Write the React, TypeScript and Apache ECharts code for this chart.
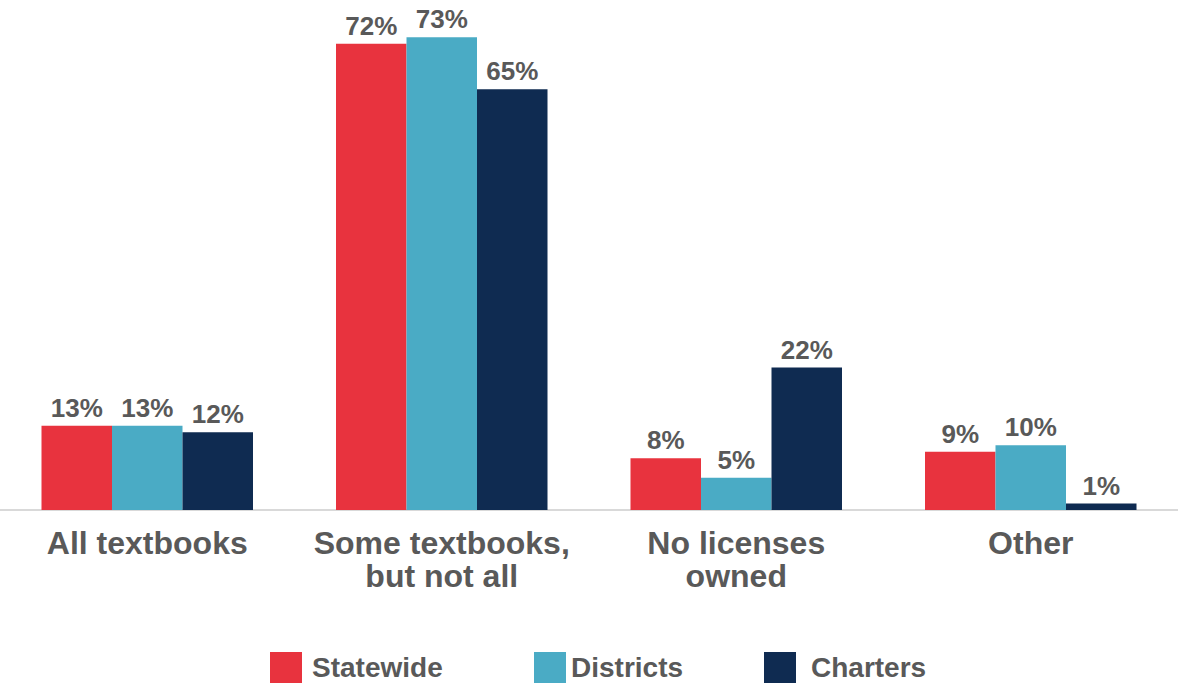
import React, { useEffect, useRef } from "react";
import * as echarts from "echarts";

const categories = ["All textbooks", "Some textbooks,\nbut not all", "No licenses\nowned", "Other"];
const seriesNames = ["Statewide", "Districts", "Charters"];
const statewide = [13, 72, 8, 9];
const districts = [13, 73, 5, 10];
const charters = [12, 65, 22, 1];
const colors = ["#E8333E", "#4AABC5", "#0F2B51"];

const legendLefts = [270, 534, 764];
const legendTextPad = [5, 0, 10];

export default function App() {
  const ref = useRef<HTMLDivElement>(null);
  useEffect(() => {
    if (!ref.current) return;
    const chart = echarts.init(ref.current, null, { renderer: "svg" });
    const values = [statewide, districts, charters];
    const labelColor = "#595959";
    chart.setOption({
      animation: false,
      backgroundColor: "#ffffff",
      grid: { left: 0, right: 0, top: 5, bottom: 174, containLabel: false },
      legend: seriesNames.map((n, i) => ({
        data: [n],
        left: legendLefts[i],
        top: 652,
        padding: 0,
        itemWidth: 32,
        itemHeight: 31,
        icon: "rect",
        selectedMode: false,
        textStyle: {
          fontFamily: "'Liberation Sans', Arial, sans-serif",
          fontWeight: "bold",
          fontSize: 28,
          color: labelColor,
          padding: [0, 0, 0, legendTextPad[i]],
        },
      })),
      xAxis: {
        type: "category",
        data: categories,
        axisTick: { show: false },
        axisLine: { lineStyle: { color: "#D9D9D9", width: 2 } },
        axisLabel: {
          interval: 0,
          margin: 16,
          fontFamily: "'Liberation Sans', Arial, sans-serif",
          fontWeight: "bold",
          fontSize: 32,
          lineHeight: 33,
          color: labelColor,
        },
      },
      yAxis: {
        type: "value",
        min: 0,
        max: 78,
        show: false,
        splitLine: { show: false },
      },
      series: seriesNames.map((n, i) => ({
        name: n,
        type: "bar",
        data: values[i],
        barWidth: 70.5,
        barGap: "0%",
        itemStyle: { color: colors[i] },
        label: {
          show: true,
          position: "top",
          distance: 5,
          formatter: "{c}%",
          fontFamily: "'Liberation Sans', Arial, sans-serif",
          fontWeight: "bold",
          fontSize: 26,
          color: labelColor,
        },
      })),
    });
    return () => chart.dispose();
  }, []);
  return (
    <div
      ref={ref}
      style={{ position: "fixed", left: 0, top: 0, width: 1178, height: 684, background: "#fff" }}
    />
  );
}
